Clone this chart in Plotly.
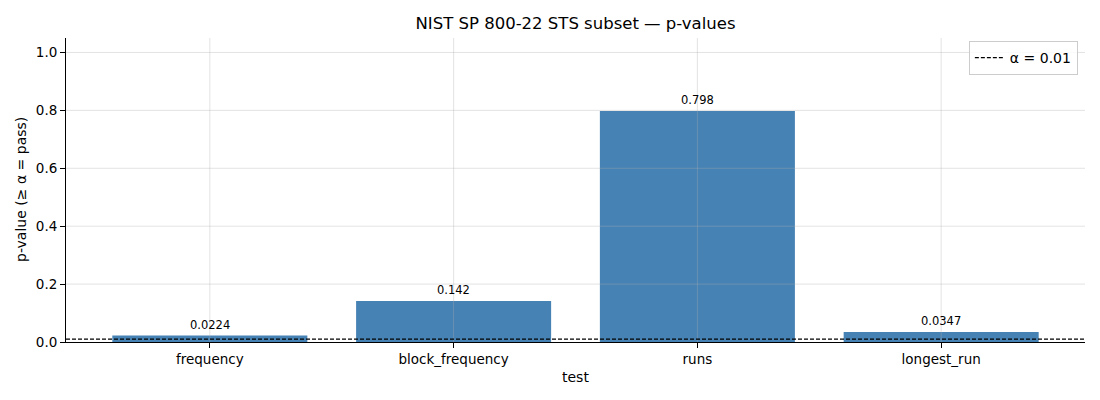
import plotly.graph_objects as go

# NIST STS subset results
tests = ["frequency", "block_frequency", "runs", "longest_run"]
p_values = [0.0224, 0.142, 0.798, 0.0347]
p_labels = ["0.0224", "0.142", "0.798", "0.0347"]
alpha = 0.01
y_ticks = [0.0, 0.2, 0.4, 0.6, 0.8, 1.0]

FONT = "DejaVu Sans"
GRID = "rgba(176,176,176,0.35)"
DASH = "4px,2px"

# page body has an 8px margin, so the figure is sized to fit inside it
W, H = 1092, 392

fig = go.Figure()

fig.add_trace(go.Bar(
    x=tests,
    y=p_values,
    width=0.8,
    marker=dict(color="#4682b4", line=dict(width=0)),
    showlegend=False,
    hoverinfo="x+y",
))

# legend entry for the threshold line
fig.add_trace(go.Scatter(
    x=[None], y=[None],
    mode="lines",
    line=dict(color="black", width=1.2, dash=DASH),
    name="α = 0.01",
))

# value labels above each bar
for t, v, lab in zip(tests, p_values, p_labels):
    fig.add_annotation(
        x=t, y=v, text=lab, showarrow=False,
        xanchor="center", yanchor="bottom", yshift=2,
        font=dict(family=FONT, size=11.5, color="black"),
    )

# axis titles placed by hand (automargin is off)
fig.add_annotation(text="test", xref="paper", yref="paper", x=0.5, y=0,
                   xanchor="center", yanchor="middle", yshift=-35, showarrow=False,
                   font=dict(family=FONT, size=14, color="black"))
fig.add_annotation(text="p-value (≥ α = pass)", xref="paper", yref="paper", x=0, y=0.5,
                   xanchor="center", yanchor="middle", xshift=-45, textangle=-90,
                   showarrow=False, font=dict(family=FONT, size=14, color="black"))

# grid drawn on top of the bars, like matplotlib's alpha grid
shapes = []
for t in tests:
    shapes.append(dict(type="line", xref="x", yref="y domain", x0=t, x1=t, y0=0, y1=1,
                       line=dict(color=GRID, width=1), layer="above"))
for yv in y_ticks[1:]:
    shapes.append(dict(type="line", xref="x domain", yref="y", x0=0, x1=1, y0=yv, y1=yv,
                       line=dict(color=GRID, width=1), layer="above"))
# alpha threshold
shapes.append(dict(type="line", xref="x domain", yref="y", x0=0, x1=1, y0=alpha, y1=alpha,
                   line=dict(color="black", width=1.3, dash=DASH), layer="above"))

fig.update_layout(
    width=W, height=H,
    template="plotly_white",
    plot_bgcolor="white",
    paper_bgcolor="white",
    font=dict(family=FONT, size=14, color="black"),
    title=dict(text="NIST SP 800-22 STS subset — p-values", x=(58 + 1077) / 2 / W,
               xanchor="center", y=1 - 15 / H, yanchor="middle",
               font=dict(family=FONT, size=16.5, color="black")),
    margin=dict(l=58, r=15, t=30, b=58),
    shapes=shapes,
    legend=dict(x=0.993, y=0.99, xanchor="right", yanchor="top",
                bgcolor="rgba(255,255,255,0.8)", bordercolor="#cccccc", borderwidth=1,
                font=dict(family=FONT, size=14)),
    bargap=0.2,
)

fig.update_xaxes(
    range=[-0.59, 3.59],
    automargin=False,
    showgrid=False, zeroline=False,
    showline=True, linecolor="black", linewidth=1,
    ticks="outside", ticklen=5, tickcolor="black",
    tickfont=dict(size=13.5),
)
fig.update_yaxes(
    range=[0, 1.05],
    automargin=False,
    tickvals=y_ticks, tickformat=".1f",
    showgrid=False, zeroline=False,
    showline=True, linecolor="black", linewidth=1,
    ticks="outside", ticklen=5, tickcolor="black",
    tickfont=dict(size=13.5),
)

fig.write_html("out.html")
